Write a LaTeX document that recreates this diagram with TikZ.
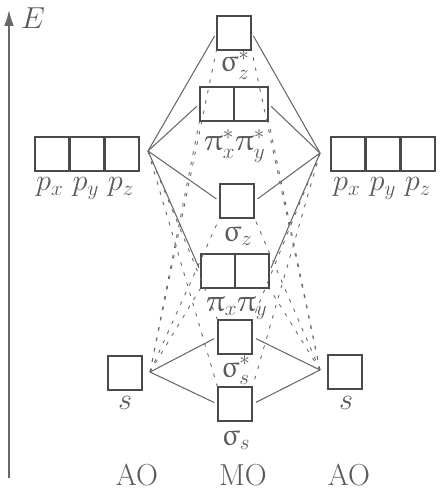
\documentclass[tikz,border=0pt]{standalone}
\usepackage{upgreek}
\usetikzlibrary{arrows.meta}
\definecolor{boxgray}{HTML}{4A4A4A}
\definecolor{linegray}{HTML}{686868}
\definecolor{textgray}{HTML}{5A5A5A}
\tikzset{
  orb/.style={draw=boxgray, line width=0.8pt, minimum size=0.68cm, inner sep=0pt},
  lbl/.style={anchor=base, text=textgray, font=\LARGE, inner sep=0pt},
  mix/.style={draw=linegray, line width=0.6pt, shorten >=2pt},
  mixd/.style={draw=linegray, line width=0.5pt, dashed, dash pattern=on 2pt off 4pt}
}
\begin{document}
\begin{tikzpicture}[x=0.02cm, y=-0.02cm]
  \useasboundingbox (0,0) rectangle (447,493);
  % energy axis
  \coordinate (ebot) at (9,478);
  \coordinate (etop) at (9,10);
  \draw[linegray, line width=0.8pt, -{Latex[length=9pt,width=5.5pt]}] (ebot) -- (etop);
  \node[lbl] (E) at (33,29) {$E$};
  % atomic orbitals
  \node[orb] (pL1) at (52,154) {};
  \node[orb] (pL2) at (87,154) {};
  \node[orb] (pL3) at (122,154) {};
  \node[orb] (pR1) at (348,154) {};
  \node[orb] (pR2) at (383,154) {};
  \node[orb] (pR3) at (418,154) {};
  \node[orb] (sL) at (125,373) {};
  \node[orb] (sR) at (345,372) {};
  % molecular orbitals
  \node[orb] (szs) at (234,33) {};
  \node[orb] (pisx) at (217,104) {};
  \node[orb] (pisy) at (251,104) {};
  \node[orb] (sz) at (237,201) {};
  \node[orb] (pix) at (218,271) {};
  \node[orb] (piy) at (252,271) {};
  \node[orb] (sss) at (235,337) {};
  \node[orb] (ss) at (235,404) {};
  % labels
  \node[lbl] (pL1t) at (50,191) {$p_x$};
  \node[lbl] (pL2t) at (86,191) {$p_y$};
  \node[lbl] (pL3t) at (121,191) {$p_z$};
  \node[lbl] (pR1t) at (347,191) {$p_x$};
  \node[lbl] (pR2t) at (383,191) {$p_y$};
  \node[lbl] (pR3t) at (418,191) {$p_z$};
  \node[lbl] (sLt) at (125,409) {$s$};
  \node[lbl] (sRt) at (346,409) {$s$};
  \node[lbl] (szst) at (235,72) {$\upsigma_z^*$};
  \node[lbl] (pist) at (235,151) {$\uppi_x^*\uppi_y^*$};
  \node[lbl] (szt) at (238,241) {$\upsigma_z$};
  \node[lbl] (pit) at (237,311) {$\uppi_x\uppi_y$};
  \node[lbl] (ssst) at (236,377) {$\upsigma_s^*$};
  \node[lbl] (sst) at (236,445) {$\upsigma_s$};
  \node[lbl] (aoL) at (137,485) {AO};
  \node[lbl] (mo) at (243,485) {MO};
  \node[lbl] (aoR) at (349,485) {AO};
  % meeting points
  \coordinate (pA) at (148,151);
  \coordinate (pB) at (320,153);
  \coordinate (sA) at (150,372);
  \coordinate (sB) at (320,370);
  % mixing lines
  \draw[mix] (pA) to (szs.west);
  \draw[mix] (pA) to (pisx.west);
  \draw[mix] (pA) to (sz.west);
  \draw[mix] (pA) to (pix.west);
  \draw[mix] (pB) to (szs.east);
  \draw[mix] (pB) to (pisy.east);
  \draw[mix] (pB) to (sz.east);
  \draw[mix] (pB) to (piy.east);
  \draw[mix] (sA) to (sss.west);
  \draw[mix] (sA) to (ss.west);
  \draw[mix] (sB) to (sss.east);
  \draw[mix] (sB) to (ss.east);
  % s-p mixing
  \begin{scope}[mixd]
    \draw (sA) to (szs.south west);
    \draw (sA) to (pisx.south west);
    \draw (sA) to (sz.south west);
    \draw (sA) to (pix.south west);
    \draw (sB) to (szs.south east);
    \draw (sB) to (pisy.south east);
    \draw (sB) to (sz.south east);
    \draw (sB) to (piy.south east);
    \draw (pA) to (sss.north west);
    \draw (pA) to (ss.north west);
    \draw (pB) to (sss.north east);
    \draw (pB) to (ss.north east);
  \end{scope}
\end{tikzpicture}
\end{document}
